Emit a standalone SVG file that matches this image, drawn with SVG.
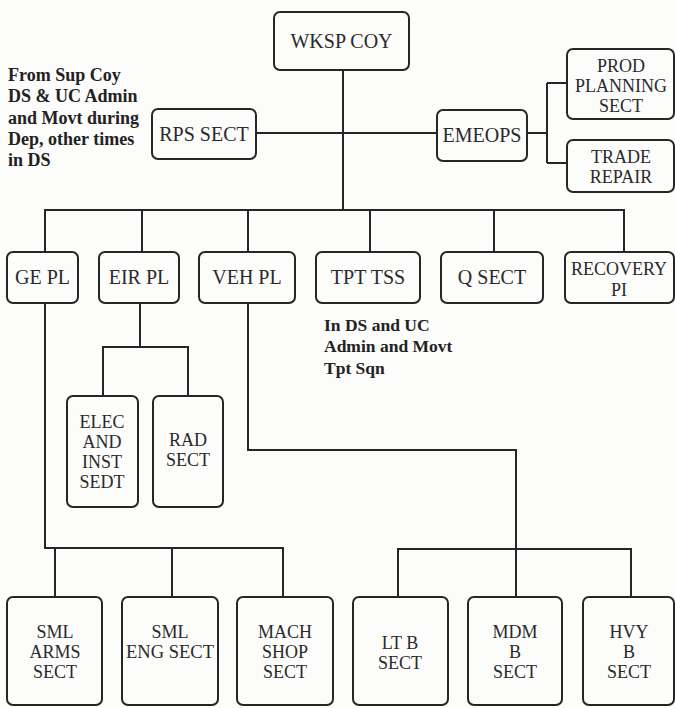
<svg xmlns="http://www.w3.org/2000/svg" width="675" height="708" viewBox="0 0 675 708">
<style>
.box{fill:none;stroke:#262626;stroke-width:2}
.ln{fill:none;stroke:#262626;stroke-width:2}
.t{font-family:"Liberation Serif",serif;font-size:20px;fill:#2a2a2a;text-anchor:middle}
.m{font-family:"Liberation Serif",serif;font-size:18px;fill:#2a2a2a;text-anchor:middle}
.a{font-family:"Liberation Serif",serif;font-size:18px;font-weight:bold;fill:#222}
.b{font-family:"Liberation Serif",serif;font-size:17.5px;font-weight:bold;fill:#222}
</style>
<rect width="675" height="708" fill="#fcfcfb"/>
<g id="connectors">
<path class="ln" d="M343 70V210"/>
<path class="ln" d="M256 133H437"/>
<path class="ln" d="M527 133H547M547 83V163M547 83H567M547 163H567"/>
<path class="ln" d="M45 252V210H624V252M142 210V252M248 210V252M370 210V252M494 210V252"/>
<path class="ln" d="M140 303V347M103 396V347H188V396"/>
<path class="ln" d="M45 303V548H283V597M55 548V597M172 548V597"/>
<path class="ln" d="M248 303V450H516V597M398 597V549H631V597"/>
</g>
<g id="wksp"><rect class="box" x="274" y="12" width="135" height="58" rx="6"/><text class="t" x="341.5" y="48">WKSP COY</text></g>
<g id="rps"><rect class="box" x="152" y="109" width="104" height="50" rx="6"/><text class="t" x="204" y="141">RPS SECT</text></g>
<g id="emeops"><rect class="box" x="437" y="110" width="90" height="51" rx="6"/><text class="t" x="482" y="142">EMEOPS</text></g>
<g id="prod"><rect class="box" x="567" y="49" width="107" height="70" rx="6"/><text class="m" x="621" y="72">PROD</text><text class="m" x="621" y="92">PLANNING</text><text class="m" x="621" y="112">SECT</text></g>
<g id="trade"><rect class="box" x="567" y="140" width="107" height="52" rx="6"/><text class="m" x="621" y="163">TRADE</text><text class="m" x="621" y="183">REPAIR</text></g>
<g id="note1"><text class="a"><tspan x="8" y="81">From Sup Coy</tspan><tspan x="8" y="102">DS &amp; UC Admin</tspan><tspan x="8" y="124">and Movt during</tspan><tspan x="8" y="145">Dep, other times</tspan><tspan x="8" y="166">in DS</tspan></text></g>
<g id="gepl"><rect class="box" x="7" y="252" width="71" height="51" rx="6"/><text class="t" x="42.5" y="284">GE PL</text></g>
<g id="eirpl"><rect class="box" x="99" y="252" width="80" height="51" rx="6"/><text class="t" x="139" y="284">EIR PL</text></g>
<g id="vehpl"><rect class="box" x="199" y="252" width="96" height="51" rx="6"/><text class="t" x="247" y="284">VEH PL</text></g>
<g id="tpttss"><rect class="box" x="316" y="252" width="104" height="51" rx="6"/><text class="t" x="368" y="284">TPT TSS</text></g>
<g id="qsect"><rect class="box" x="441" y="252" width="102" height="51" rx="6"/><text class="t" x="492" y="284">Q SECT</text></g>
<g id="recovery"><rect class="box" x="565" y="252" width="109" height="51" rx="6"/><text class="m" x="619" y="275" textLength="96" lengthAdjust="spacingAndGlyphs">RECOVERY</text><text class="m" x="619" y="296">PI</text></g>
<g id="note2"><text class="b"><tspan x="324" y="331">In DS and UC</tspan><tspan x="324" y="352">Admin and Movt</tspan><tspan x="324" y="374">Tpt Sqn</tspan></text></g>
<g id="elec"><rect class="box" x="67" y="396" width="71" height="111" rx="6"/><text class="m" x="102" y="428">ELEC</text><text class="m" x="102" y="448">AND</text><text class="m" x="102" y="468">INST</text><text class="m" x="102" y="488">SEDT</text></g>
<g id="rad"><rect class="box" x="153" y="396" width="70" height="111" rx="6"/><text class="m" x="188" y="446">RAD</text><text class="m" x="188" y="466">SECT</text></g>
<g id="smlarms"><rect class="box" x="7" y="597" width="95" height="108" rx="6"/><text class="m" x="55" y="638">SML</text><text class="m" x="55" y="658">ARMS</text><text class="m" x="55" y="678">SECT</text></g>
<g id="smleng"><rect class="box" x="122" y="597" width="96" height="108" rx="6"/><text class="m" x="170" y="638">SML</text><text class="m" x="170" y="658" textLength="88" lengthAdjust="spacingAndGlyphs">ENG SECT</text></g>
<g id="mach"><rect class="box" x="237" y="597" width="96" height="108" rx="6"/><text class="m" x="285" y="638">MACH</text><text class="m" x="285" y="658">SHOP</text><text class="m" x="285" y="678">SECT</text></g>
<g id="ltb"><rect class="box" x="353" y="597" width="95" height="108" rx="6"/><text class="m" x="400" y="649">LT B</text><text class="m" x="400" y="669">SECT</text></g>
<g id="mdm"><rect class="box" x="468" y="597" width="94" height="108" rx="6"/><text class="m" x="515" y="638">MDM</text><text class="m" x="515" y="658">B</text><text class="m" x="515" y="678">SECT</text></g>
<g id="hvy"><rect class="box" x="583" y="597" width="91" height="108" rx="6"/><text class="m" x="629" y="638">HVY</text><text class="m" x="629" y="658">B</text><text class="m" x="629" y="678">SECT</text></g>
</svg>
